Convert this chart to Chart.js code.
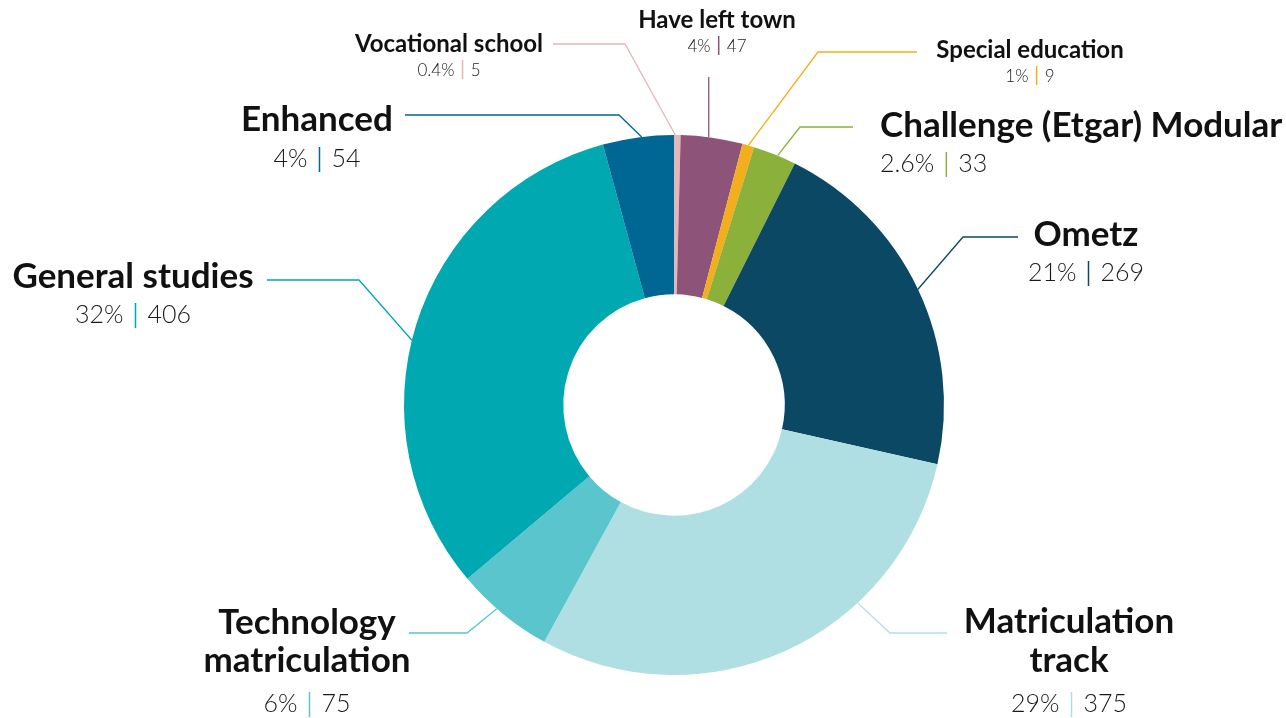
<!DOCTYPE html>
<html>
<head>
<meta charset="utf-8">
<script src="https://cdn.jsdelivr.net/npm/chart.js@4.4.1/dist/chart.umd.min.js"></script>
<style>
  html, body { margin: 0; padding: 0; background: #ffffff; }
  #wrap { width: 1286px; height: 718px; position: relative; }
</style>
</head>
<body>
<div id="wrap"><canvas id="c" width="1286" height="718"></canvas></div>
<script>
// ---- data ----
const categories = ['Vocational school', 'Have left town', 'Special education', 'Challenge (Etgar) Modular', 'Ometz', 'Matriculation track', 'Technology matriculation', 'General studies', 'Enhanced'];
const counts = [5, 47, 9, 33, 269, 375, 75, 406, 54];
const percentLabels = ['0.4%', '4%', '1%', '2.6%', '21%', '29%', '6%', '32%', '4%'];

// ---- styles ----
const sliceColors = ['#e4b5b9', '#8e5378', '#f2ae1c', '#8bb13b', '#0a4863', '#b0dfe3', '#5ac5cd', '#00a8b2', '#006693'];
const FONT = 'Lato, "Noto Sans", sans-serif';

// label layout (annotation positions, in canvas px): anchor fraction along slice, leader polyline, text placement
const labelLayout = [
  { frac: 0.2,  size: 'small', align: 'center', x: 449,  titleY: [52],       valueY: 76,  path: [[553, 44], [625, 44]] },
  { frac: 0.45, size: 'small', align: 'center', x: 717,  titleY: [28],       valueY: 52,  path: [['anchor', 77]] },
  { frac: 0.5,  size: 'small', align: 'center', x: 1030, titleY: [58],       valueY: 82,  path: [[917, 52], [818, 52]] },
  { frac: 0.57, size: 'big',   align: 'left',   x: 880,  titleY: [137],      valueY: 172, path: [[853, 127], [800, 127]] },
  { frac: 0.5,  size: 'big',   align: 'center', x: 1086, titleY: [246],      valueY: 281, path: [[1018, 237], [963, 237]] },
  { frac: 0.325,size: 'big',   align: 'center', x: 1069, titleY: [633, 672], valueY: 712, path: [[947, 633], [890, 633]] },
  { frac: 0.58, size: 'big',   align: 'center', x: 307,  titleY: [634, 672], valueY: 712, path: [[409, 633], [467, 633]] },
  { frac: 0.47, size: 'big',   align: 'center', x: 133,  titleY: [288],      valueY: 323, path: [[267, 280], [359, 280]] },
  { frac: 0.55, size: 'big',   align: 'center', x: 317,  titleY: [131],      valueY: 167, path: [[405, 115], [619, 115]] }
];
const sizes = {
  big:   { title: 35, value: 25, sepTop: 20, sepBot: 5 },
  small: { title: 24, value: 17, sepTop: 16, sepBot: 3 }
};

const calloutPlugin = {
  id: 'callouts',
  afterDraw(chart) {
    const ctx = chart.ctx;
    const meta = chart.getDatasetMeta(0);
    meta.data.forEach((arc, i) => {
      const L = labelLayout[i];
      if (!L) return;
      const p = arc.getProps(['x', 'y', 'startAngle', 'endAngle', 'outerRadius'], true);
      const a = p.startAngle + (p.endAngle - p.startAngle) * L.frac;
      const ax = p.x + Math.cos(a) * p.outerRadius;
      const ay = p.y + Math.sin(a) * p.outerRadius;
      const color = sliceColors[i];
      // leader
      ctx.save();
      ctx.strokeStyle = color;
      ctx.lineWidth = 1.3;
      ctx.beginPath();
      L.path.forEach((pt, k) => {
        const px = pt[0] === 'anchor' ? ax : pt[0];
        if (k === 0) ctx.moveTo(px, pt[1]); else ctx.lineTo(px, pt[1]);
      });
      ctx.lineTo(ax, ay);
      ctx.stroke();
      // title
      const S = sizes[L.size];
      const lines = L.titleY.length > 1 ? [categories[i].slice(0, categories[i].indexOf(' ')), categories[i].slice(categories[i].indexOf(' ') + 1)] : [categories[i]];
      ctx.fillStyle = '#111111';
      ctx.font = 'bold ' + S.title + 'px ' + FONT;
      ctx.textBaseline = 'alphabetic';
      ctx.textAlign = L.align;
      lines.forEach((ln, k) => ctx.fillText(ln, L.x, L.titleY[k]));
      // value line
      ctx.font = '300 ' + S.value + 'px ' + FONT;
      ctx.textAlign = 'left';
      const pct = percentLabels[i], num = String(counts[i]);
      const wp = ctx.measureText(pct).width, wn = ctx.measureText(num).width;
      const gap = S.value * 0.48;
      const total = wp + gap * 2 + wn;
      let sx = L.align === 'center' ? L.x - total / 2 : L.x;
      ctx.fillStyle = '#1a1a1a';
      ctx.fillText(pct, sx, L.valueY);
      const sepX = sx + wp + gap;
      ctx.fillText(num, sepX + gap, L.valueY);
      ctx.strokeStyle = color;
      ctx.lineWidth = 1.5;
      ctx.beginPath();
      ctx.moveTo(sepX, L.valueY - S.sepTop);
      ctx.lineTo(sepX, L.valueY + S.sepBot);
      ctx.stroke();
      ctx.restore();
    });
  }
};

new Chart(document.getElementById('c'), {
  type: 'doughnut',
  data: {
    labels: categories,
    datasets: [{
      data: counts,
      backgroundColor: sliceColors,
      borderWidth: 0,
      hoverOffset: 0
    }]
  },
  options: {
    responsive: false,
    animation: false,
    devicePixelRatio: 1,
    cutout: '41%',
    rotation: 0,
    layout: { padding: { left: 404, right: 342, top: 135, bottom: 43 } },
    plugins: {
      legend: { display: false },
      tooltip: { enabled: false }
    }
  },
  plugins: [calloutPlugin]
});
</script>
</body>
</html>
